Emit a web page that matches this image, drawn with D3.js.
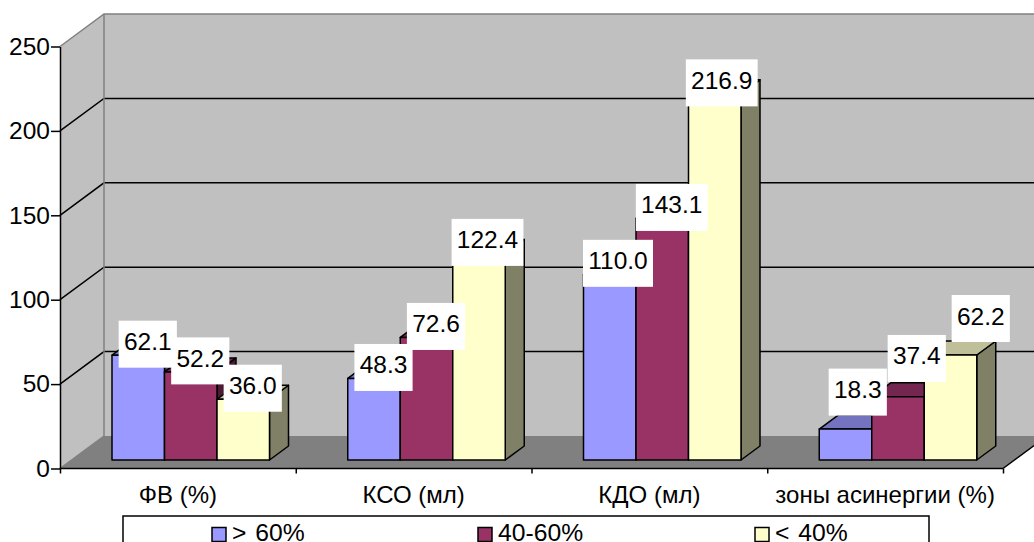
<!DOCTYPE html>
<html>
<head>
<meta charset="utf-8">
<script src="https://cdn.jsdelivr.net/npm/d3@7"></script>
<style>
html, body { margin: 0; padding: 0; background: #fff; overflow: hidden; }
text { font-family: "Liberation Sans", Arial, sans-serif; fill: #000; }
</style>
</head>
<body>
<div id="chart"></div>
<script>
const categories = ['ФВ (%)', 'КСО (мл)', 'КДО (мл)', 'зоны асинергии (%)'];
const seriesNames = ['> 60%', '40-60%', '< 40%'];
const seriesColors = ['#9999ff', '#993366', '#ffffcc'];
const seriesTop = ['#7373bf', '#732650', '#bfbf99'];
const seriesSide = ['#4d4d80', '#4d1a33', '#808066'];
const over60 = [62.1, 48.3, 110.0, 18.3];
const mid40to60 = [52.2, 72.6, 143.1, 37.4];
const under40 = [36.0, 122.4, 216.9, 62.2];
const yTicks = [0, 50, 100, 150, 200, 250];
const legendX = [212, 478, 755];

const width = 1034, height = 542;
const values = [over60, mid40to60, under40];

// labels dragged away from their bars in the original, [series][category]
const labelNudge = {
    '0,3': [2.75, -26],
    '1,3': [9.25, -27.4],
    '2,3': [20.75, -25.5],
    '2,2': [-2.5, 0],
    '0,2': [-1.25, 0],
    '2,1': [-1, 0]
};

const svg = d3.select('#chart').append('svg')
    .attr('width', width)
    .attr('height', height)
    .style('display', 'block');

// scales
const y = d3.scaleLinear().domain([0, 250]).range([468.5, 46.5]);
const x = d3.scaleBand().domain(categories).range([60, 1003]);
const xs = d3.scaleBand().domain(d3.range(3)).range([52, 209.5]);

// 3d offsets
const wall = { dx: 44, dy: -32.5 };
const front = { dx: 11.5, dy: -8.5 };
const depth = { dx: 19, dy: -14 };
const right = x.range()[1];
const pts = a => a.map(p => p.join(',')).join(' ');

// walls and floor
svg.append('polygon')
    .attr('points', pts([[60, y(250)], [60 + wall.dx, y(250) + wall.dy], [1100, y(250) + wall.dy], [1100, y(0) + wall.dy], [60 + wall.dx, y(0) + wall.dy], [60, y(0)]]))
    .attr('fill', '#c0c0c0');
svg.append('polygon')
    .attr('points', pts([[60, y(0)], [60 + wall.dx, y(0) + wall.dy], [right + wall.dx, y(0) + wall.dy], [right, y(0)]]))
    .attr('fill', '#808080');

// gridlines
svg.append('g').selectAll('polyline')
    .data(yTicks.filter(d => d > 0))
    .join('polyline')
    .attr('points', d => pts([[60, y(d)], [60 + wall.dx, y(d) + wall.dy], [1100, y(d) + wall.dy]]))
    .attr('fill', 'none')
    .attr('stroke', d => d === 250 ? '#808080' : '#000')
    .attr('stroke-width', 1.5);

svg.append('polyline')
    .attr('points', pts([[60, y(0)], [60 + wall.dx, y(0) + wall.dy], [60 + wall.dx, y(250) + wall.dy]]))
    .attr('fill', 'none')
    .attr('stroke', '#808080')
    .attr('stroke-width', 1.5);

// right edge of the floor
svg.append('line')
    .attr('x1', right).attr('y1', y(0))
    .attr('x2', right + wall.dx).attr('y2', y(0) + wall.dy)
    .attr('stroke', '#000')
    .attr('stroke-width', 1.5);

// bars
const baseY = y(0) + front.dy;
values.forEach((vals, s) => {
    const g = svg.append('g');
    vals.forEach((v, c) => {
        const x0 = x(categories[c]) + xs(s);
        const x1 = x0 + xs.bandwidth();
        const top = y(v) + front.dy;
        const bar = g.append('g')
            .attr('stroke', '#000')
            .attr('stroke-width', 1.5)
            .attr('stroke-linejoin', 'round');
        bar.append('polygon')
            .attr('points', pts([[x1, baseY], [x1 + depth.dx, baseY + depth.dy], [x1 + depth.dx, top + depth.dy], [x1, top]]))
            .attr('fill', seriesSide[s]);
        bar.append('polygon')
            .attr('points', pts([[x0, top], [x0 + depth.dx, top + depth.dy], [x1 + depth.dx, top + depth.dy], [x1, top]]))
            .attr('fill', seriesTop[s]);
        bar.append('rect')
            .attr('x', x0)
            .attr('y', top)
            .attr('width', xs.bandwidth())
            .attr('height', baseY - top)
            .attr('fill', seriesColors[s]);
    });
});

// axes
const yAxis = d3.axisLeft(y).tickValues(yTicks).tickSize(9).tickPadding(1).tickSizeOuter(0);
const yG = svg.append('g').attr('transform', 'translate(60,0)').call(yAxis);
yG.selectAll('text').style('font-size', '24.5px');

const xEdges = d3.scaleLinear().domain([0, 4]).range(x.range());
const xG = svg.append('g').attr('transform', `translate(0,${y(0)})`)
    .call(d3.axisBottom(xEdges).tickValues(d3.range(5)).tickSize(5).tickSizeOuter(0).tickFormat(''));
svg.selectAll('.domain').attr('stroke-width', 1.5);
svg.selectAll('.tick line').attr('stroke-width', 1.5);
xG.select('.domain').attr('d', `M60,0H${right}`);

svg.append('g').selectAll('text')
    .data(categories)
    .join('text')
    .attr('x', d => x(d) + x.bandwidth() / 2)
    .attr('y', 502.5)
    .attr('text-anchor', 'middle')
    .style('font-size', '24px')
    .text(d => d);

// data labels
const labelG = svg.append('g');
values.forEach((vals, s) => {
    vals.forEach((v, c) => {
        const nudge = labelNudge[s + ',' + c] || [0, 0];
        const cx = x(categories[c]) + xs(s) + xs.bandwidth() / 2 + depth.dx / 2 + nudge[0];
        const cy = y(v) + front.dy + depth.dy / 2 - 4 + nudge[1];
        const g = labelG.append('g');
        const box = g.append('rect').attr('fill', '#fff');
        const t = g.append('text')
            .attr('x', cx)
            .attr('y', cy + 6)
            .attr('text-anchor', 'middle')
            .style('font-size', '24.5px')
            .text(v.toFixed(1));
        const w = t.node().getComputedTextLength() + 10.5;
        box.attr('x', cx - w / 2).attr('y', cy - 23.5).attr('width', w).attr('height', 47);
    });
});

// legend
svg.append('rect')
    .attr('x', 123)
    .attr('y', 516)
    .attr('width', 806)
    .attr('height', 40)
    .attr('fill', '#fff')
    .attr('stroke', '#000')
    .attr('stroke-width', 1.5);
const legend = svg.append('g').selectAll('g')
    .data(seriesNames)
    .join('g')
    .attr('transform', (d, i) => `translate(${legendX[i]},527.5)`);
legend.append('rect')
    .attr('width', 14)
    .attr('height', 14)
    .attr('fill', (d, i) => seriesColors[i])
    .attr('stroke', '#000')
    .attr('stroke-width', 1.5);
legend.append('text')
    .attr('x', 20)
    .attr('y', 13.5)
    .style('font-size', '24.7px')
    .style('word-spacing', '2px')
    .text(d => d);
</script>
</body>
</html>
